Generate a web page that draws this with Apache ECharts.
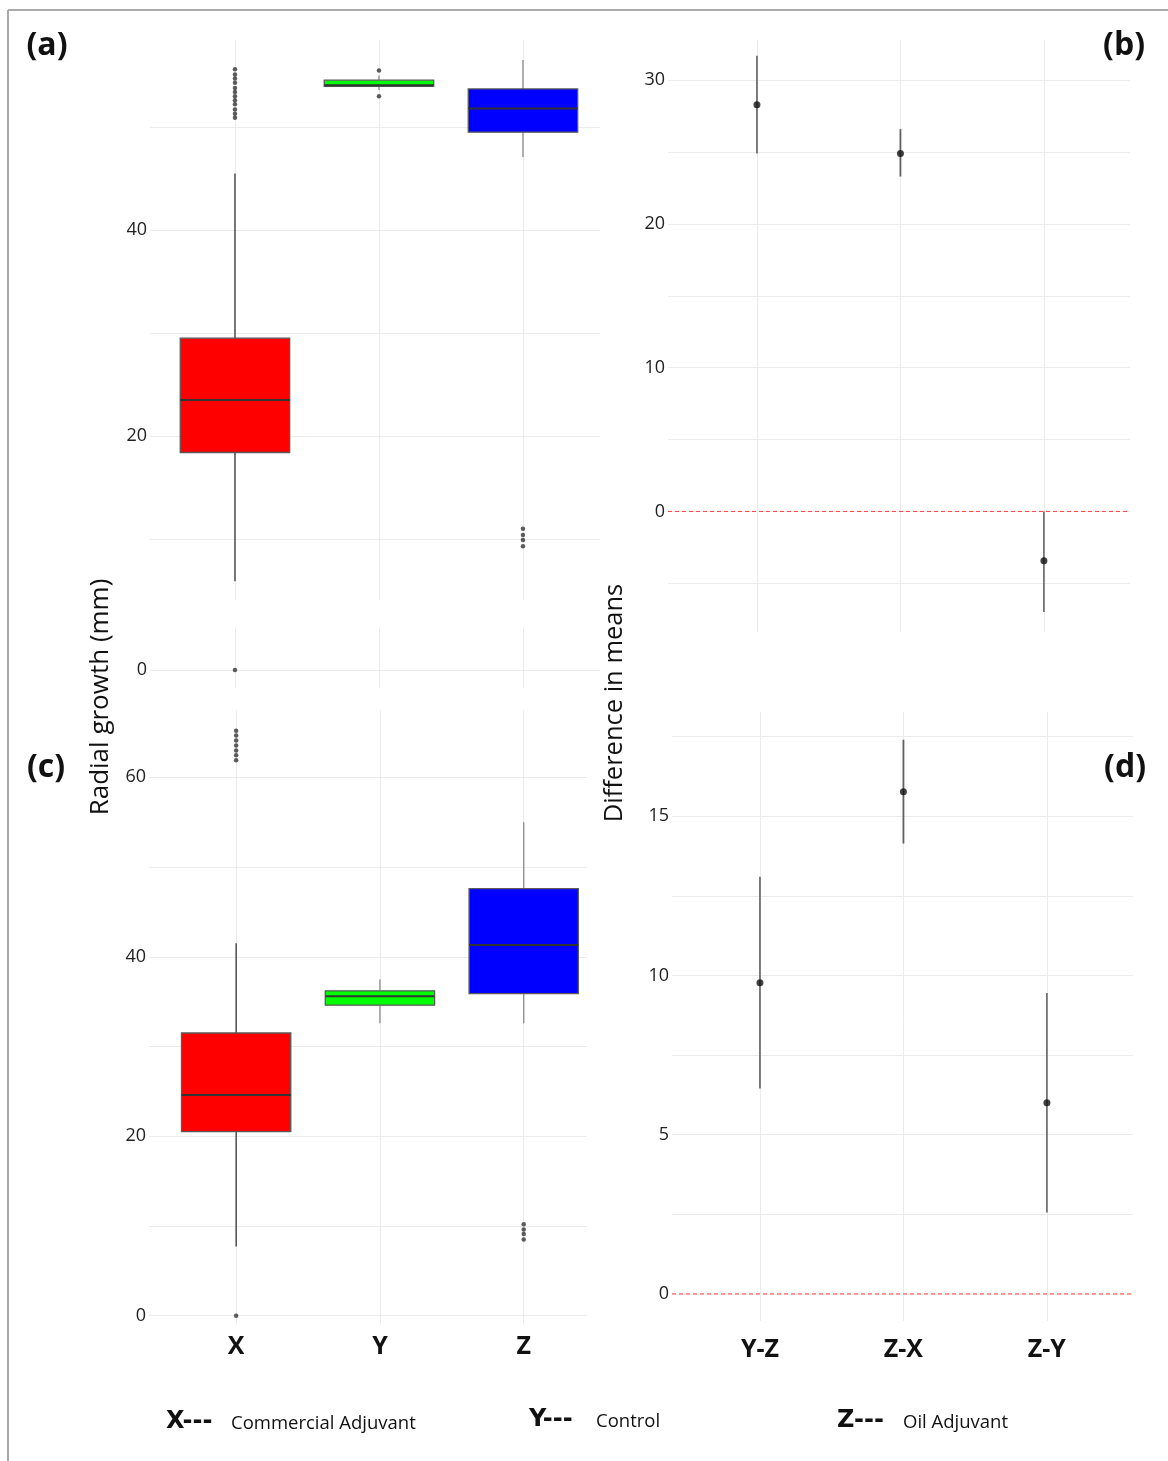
<!DOCTYPE html>
<html>
<head>
<meta charset="utf-8">
<script src="https://cdn.jsdelivr.net/npm/echarts@6/dist/echarts.min.js"></script>
<style>
html,body{margin:0;padding:0;background:#fff;}
#chart{width:1168px;height:1461px;}
</style>
</head>
<body>
<div id="chart"></div>
<script>
// ---------- DATA ----------
const groups = ['X', 'Y', 'Z'];
const comparisons = ['Y-Z', 'Z-X', 'Z-Y'];

// Panel (a) box statistics
const aLow  = [5.9, 53.6, 47.1];
const aQ1   = [18.4, 53.95, 49.5];
const aMed  = [23.5, 54.05, 51.8];
const aQ3   = [29.5, 54.55, 53.7];
const aHigh = [45.5, 55.0, 56.5];
const aOutX = [0, 50.9, 51.3, 51.7, 52.2, 52.6, 53.0, 53.4, 53.8, 54.3, 54.7, 55.1, 55.6];
const aOutY = [55.5, 53.0];
const aOutZ = [11.0, 10.4, 9.9, 9.3];

// Panel (c) box statistics
const cLow  = [7.7, 32.6, 32.6];
const cQ1   = [20.5, 34.6, 35.9];
const cMed  = [24.6, 35.6, 41.3];
const cQ3   = [31.5, 36.2, 47.6];
const cHigh = [41.5, 37.5, 55.0];
const cOutX = [0, 61.9, 62.45, 63.0, 63.55, 64.1, 64.65, 65.2];
const cOutY = [];
const cOutZ = [10.2, 9.6, 9.1, 8.5];

// Panel (b) differences in means with intervals
const bDiff = [28.3, 24.9, -3.44];
const bLwr  = [24.9, 23.3, -7.0];
const bUpr  = [31.7, 26.6, 0.0];

// Panel (d)
const dDiff = [9.77, 15.77, 6.0];
const dLwr  = [6.45, 14.14, 2.56];
const dUpr  = [13.1, 17.4, 9.45];

// reference value for the dashed line
const refValue = 0;

// ---------- STYLE ----------
const boxFill = ['#ff0000', '#00ff00', '#0000ff'];
const whiskerColor = ['#333333', '#8a8a8a', '#8a8a8a'];
const errColor = ['#707070', '#606060', '#333333'];
const errWidth = [1.8, 1.8, 1.2];
const GRID_C = '#ebebeb';
const FONT = 'Open Sans';
const BOX_W = 0.76;

function isMult(v, step) {
  const r = v / step;
  return Math.abs(r - Math.round(r)) < 1e-6;
}

function boxData(lo, q1, md, q3, hi) {
  return groups.map((g, i) => [i + 1, lo[i], q1[i], md[i], q3[i], hi[i]]);
}
function outData(ox, oy, oz) {
  return [].concat(ox.map(v => [1, v]), oy.map(v => [2, v]), oz.map(v => [3, v]));
}
function errData(lwr, upr) {
  return comparisons.map((c, i) => [i + 1, lwr[i], upr[i]]);
}
function ptData(diff) {
  return comparisons.map((c, i) => [i + 1, diff[i]]);
}

function renderBox(params, api) {
  const x = api.value(0);
  const pLo = api.coord([x, api.value(1)]);
  const pQ1 = api.coord([x, api.value(2)]);
  const pMd = api.coord([x, api.value(3)]);
  const pQ3 = api.coord([x, api.value(4)]);
  const pHi = api.coord([x, api.value(5)]);
  const w = api.size([BOX_W, 0])[0];
  const i = params.dataIndex;
  return {
    type: 'group',
    children: [
      {type: 'line', shape: {x1: pQ3[0], y1: pQ3[1], x2: pHi[0], y2: pHi[1]},
       style: {stroke: whiskerColor[i], lineWidth: 1.3}},
      {type: 'line', shape: {x1: pLo[0], y1: pLo[1], x2: pQ1[0], y2: pQ1[1]},
       style: {stroke: whiskerColor[i], lineWidth: 1.3}},
      {type: 'rect', shape: {x: pQ3[0] - w / 2, y: pQ3[1], width: w, height: pQ1[1] - pQ3[1]},
       style: {fill: boxFill[i], stroke: '#5a5a5a', lineWidth: 1.3}},
      {type: 'line', shape: {x1: pMd[0] - w / 2, y1: pMd[1], x2: pMd[0] + w / 2, y2: pMd[1]},
       style: {stroke: '#333333', lineWidth: 2}}
    ]
  };
}

function renderErr(params, api) {
  const x = api.value(0);
  const p1 = api.coord([x, api.value(1)]);
  const p2 = api.coord([x, api.value(2)]);
  const i = params.dataIndex;
  return {type: 'line', shape: {x1: p1[0], y1: p1[1], x2: p2[0], y2: p2[1]},
          style: {stroke: errColor[i], lineWidth: errWidth[i]}};
}

// dashed reference line spanning the whole grid at refValue, drawn via axis coordinates
function renderRef(params, api) {
  const cs = params.coordSys;
  const y = api.coord([1, api.value(0)])[1];
  return {type: 'line', shape: {x1: cs.x, y1: y, x2: cs.x + cs.width, y2: y},
          style: {stroke: '#ff3b3b', lineWidth: 1, lineDash: [4, 3]}};
}

// ---------- LAYOUT ----------
const grids = [
  {left: 150, top: 40,  width: 450, height: 560},   // 0 (a) main
  {left: 150, top: 627, width: 450, height: 61},    // 1 (a) zero strip
  {left: 668, top: 40,  width: 462, height: 592},   // 2 (b)
  {left: 149, top: 710, width: 438, height: 615},   // 3 (c)
  {left: 672, top: 712, width: 461, height: 609}    // 4 (d)
];

function xAx(gi, min, max, labels, labelOpts) {
  return {
    type: 'value', gridIndex: gi, min: min, max: max, minInterval: 1, maxInterval: 1,
    axisLine: {show: false}, axisTick: {show: false},
    splitLine: {show: true, showMinLine: false, showMaxLine: false, lineStyle: {color: GRID_C, width: 1}},
    axisLabel: Object.assign({
      show: !!labels,
      formatter: v => (labels && isMult(v, 1) && labels[Math.round(v) - 1]) || '',
      fontFamily: FONT, fontSize: 25, fontWeight: 'bold', color: '#111'
    }, labelOpts || {})
  };
}
function yAx(gi, min, max, step, labelStep) {
  return {
    type: 'value', gridIndex: gi, min: min, max: max, minInterval: step, maxInterval: step,
    axisLine: {show: false}, axisTick: {show: false},
    splitLine: {show: true, showMinLine: false, showMaxLine: false, lineStyle: {color: GRID_C, width: 1}},
    axisLabel: {
      show: true, margin: 3, fontFamily: FONT, fontSize: 18, color: '#222',
      formatter: v => isMult(v, labelStep) ? String(Math.round(v)) : ''
    }
  };
}

const xAxes = [
  xAx(0, 0.41, 3.535, null),
  xAx(1, 0.41, 3.535, null),
  xAx(2, 0.38, 3.6, null),
  xAx(3, 0.394, 3.44, groups, {margin: 9}),
  xAx(4, 0.387, 3.6, comparisons, {margin: 16})
];
const yAxes = [
  yAx(0, 4.08, 58.45, 10, 20),
  yAx(1, -1.75, 4.17, 10, 20),
  yAx(2, -8.39, 32.8, 5, 10),
  yAx(3, -1.04, 67.5, 10, 20),
  yAx(4, -0.85, 18.27, 2.5, 5)
];

const series = [
  {type: 'custom', xAxisIndex: 0, yAxisIndex: 0, renderItem: renderBox,
   encode: {x: 0, y: [1, 2, 3, 4, 5]}, data: boxData(aLow, aQ1, aMed, aQ3, aHigh), z: 2},
  {type: 'scatter', xAxisIndex: 0, yAxisIndex: 0, symbolSize: 4.5,
   itemStyle: {color: '#333'}, data: outData(aOutX, aOutY, aOutZ), z: 3},
  {type: 'scatter', xAxisIndex: 1, yAxisIndex: 1, symbolSize: 4.5,
   itemStyle: {color: '#333'}, data: outData(aOutX, aOutY, aOutZ), z: 3},

  {type: 'custom', xAxisIndex: 3, yAxisIndex: 3, renderItem: renderBox,
   encode: {x: 0, y: [1, 2, 3, 4, 5]}, data: boxData(cLow, cQ1, cMed, cQ3, cHigh), z: 2},
  {type: 'scatter', xAxisIndex: 3, yAxisIndex: 3, symbolSize: 4.5,
   itemStyle: {color: '#333'}, data: outData(cOutX, cOutY, cOutZ), z: 3},

  {type: 'custom', xAxisIndex: 2, yAxisIndex: 2, renderItem: renderRef,
   encode: {y: 0}, data: [[refValue]], z: 2, silent: true},
  {type: 'custom', xAxisIndex: 2, yAxisIndex: 2, renderItem: renderErr,
   encode: {x: 0, y: [1, 2]}, data: errData(bLwr, bUpr), z: 3},
  {type: 'scatter', xAxisIndex: 2, yAxisIndex: 2, symbolSize: 7,
   itemStyle: {color: '#111'}, data: ptData(bDiff), z: 4},

  {type: 'custom', xAxisIndex: 4, yAxisIndex: 4, renderItem: renderRef,
   encode: {y: 0}, data: [[refValue]], z: 2, silent: true},
  {type: 'custom', xAxisIndex: 4, yAxisIndex: 4, renderItem: renderErr,
   encode: {x: 0, y: [1, 2]}, data: errData(dLwr, dUpr), z: 3},
  {type: 'scatter', xAxisIndex: 4, yAxisIndex: 4, symbolSize: 7,
   itemStyle: {color: '#111'}, data: ptData(dDiff), z: 4}
];

function txt(x, y, s, font, align, extra) {
  return Object.assign({
    type: 'text', x: x, y: y, silent: true,
    style: {text: s, font: font, fill: '#111', align: align || 'left', verticalAlign: 'middle'}
  }, extra || {});
}

const graphic = [
  {type: 'line', shape: {x1: 8, y1: 10, x2: 1168, y2: 10}, style: {stroke: '#aaaaaa', lineWidth: 2}},
  {type: 'line', shape: {x1: 8, y1: 10, x2: 8, y2: 1461}, style: {stroke: '#aaaaaa', lineWidth: 2}},
  txt(47, 46, '(a)', 'bold 32px "Open Sans"', 'center'),
  txt(1124, 46, '(b)', 'bold 32px "Open Sans"', 'center'),
  txt(46, 768, '(c)', 'bold 32px "Open Sans"', 'center'),
  txt(1125, 768, '(d)', 'bold 32px "Open Sans"', 'center'),
  txt(101, 697, 'Radial growth (mm)', '26px "Open Sans"', 'center', {rotation: Math.PI / 2}),
  txt(615, 703, 'Difference in means', '25.5px "Open Sans"', 'center', {rotation: Math.PI / 2}),
  txt(166, 1422, 'X---', 'bold 24px "DejaVu Sans"', 'left'),
  txt(231, 1424, 'Commercial Adjuvant', '18.5px "Open Sans"', 'left'),
  txt(529, 1420, 'Y---', 'bold 24px "DejaVu Sans"', 'left'),
  txt(596, 1422, 'Control', '18.5px "Open Sans"', 'left'),
  txt(837, 1421, 'Z---', 'bold 24px "DejaVu Sans"', 'left'),
  txt(903, 1423, 'Oil Adjuvant', '18.5px "Open Sans"', 'left')
];

const chart = echarts.init(document.getElementById('chart'), null, {renderer: 'canvas'});
chart.setOption({
  animation: false,
  backgroundColor: '#ffffff',
  grid: grids,
  xAxis: xAxes,
  yAxis: yAxes,
  series: series,
  graphic: graphic
});
</script>
</body>
</html>
